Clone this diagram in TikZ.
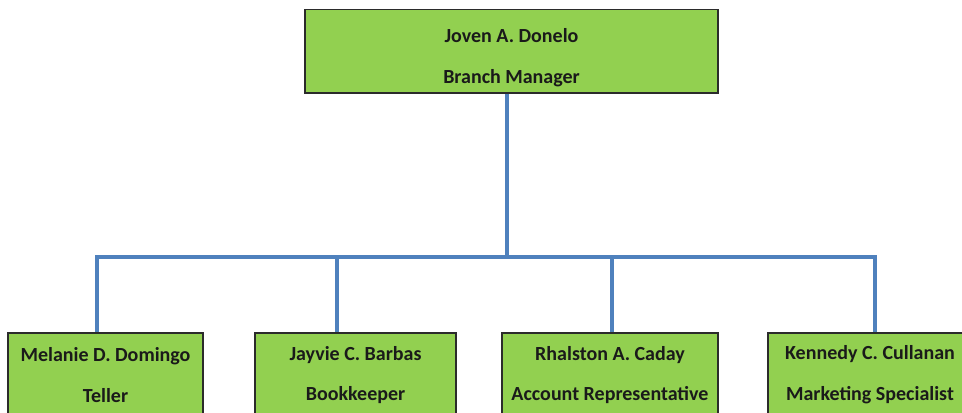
\documentclass[tikz,border=0pt]{standalone}
\usepackage{fontspec}
\setmainfont{Carlito}
\usepackage{xcolor}
\usepackage{tikz}
\usetikzlibrary{positioning,calc}
\definecolor{leaf}{HTML}{92D050}
\definecolor{wire}{HTML}{4F81BD}
\definecolor{edge}{HTML}{2B2B2B}
\definecolor{ink}{HTML}{1A1A1A}
\tikzset{
  post/.style    = {draw=edge, fill=leaf, line width=1.1pt, align=center, inner sep=0pt,
                    font=\fontsize{15}{30.5}\selectfont\bfseries\color{ink}},
  boss/.style    = {post, minimum width=309.75pt, minimum height=62.6pt},
  staff/.style   = {post, minimum height=63pt},
  link/.style    = {draw=wire, line width=3.4pt},
}
\begin{document}
\begin{tikzpicture}[x=0.75pt,y=0.75pt]
\path[use as bounding box] (0,0) rectangle (962,412);
\clip (0,0) rectangle (962,412);

% ---------- the head of the branch --------------------------------------
\node[boss] (mgr) at (511.5,360.7) {\rule{0pt}{20pt}Joven A. Donelo\\Branch Manager};

% ---------- the four desks under it -------------------------------------
\node[staff, minimum width=146.25pt] (teller) at (105.5,37) {Melanie D. Domingo\\Teller};
\node[staff, minimum width=150.75pt] (books)  at (355.5,37) {Jayvie C. Barbas\\Bookkeeper};
\node[staff, minimum width=162pt]    (acct)   at (610,37)   {Rhalston A. Caday\\Account Representative};
\node[staff, minimum width=153pt]    (mkt)    at (870,37)   {Kennedy C. Cullanan\\Marketing Specialist};

% ---------- the wiring --------------------------------------------------
\coordinate (busl) at (97,155);
\coordinate (busr) at (875,155);
\coordinate (dropa) at (97,155);
\coordinate (dropb) at (337,155);
\coordinate (dropc) at (612,155);
\coordinate (dropd) at (875,155);

\draw[link] ([xshift=-3.5pt]mgr.south) -- ([xshift=-3.5pt]mgr.south |- busl);
\draw[link, line cap=rect] (busl) -- (busr);
\foreach \d/\b in {dropa/teller, dropb/books, dropc/acct, dropd/mkt}{
  \draw[link] (\d) -- (\d |- \b.north);
}

\end{tikzpicture}
\end{document}
